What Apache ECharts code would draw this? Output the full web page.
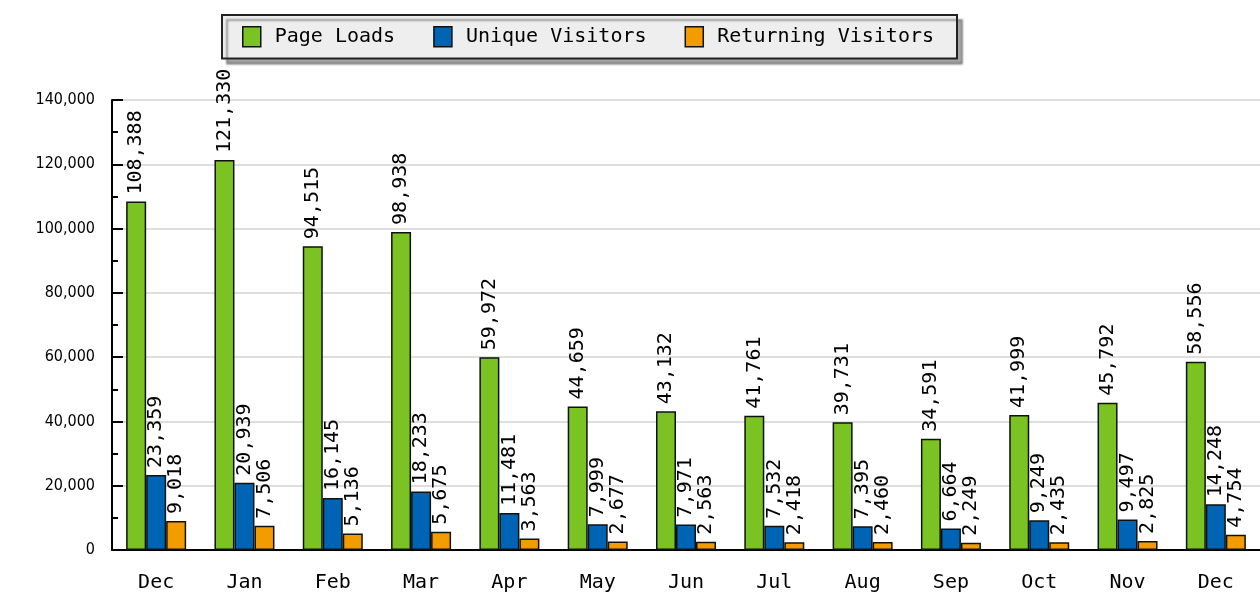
<!DOCTYPE html>
<html>
<head>
<meta charset="utf-8">
<script src="https://cdn.jsdelivr.net/npm/echarts@6/dist/echarts.min.js"></script>
<style>
  html, body { margin: 0; padding: 0; background: #fff; }
  #main { width: 1260px; height: 593px; }
</style>
</head>
<body>
<div id="main"></div>
<script>
// 月份
var months = ['Dec', 'Jan', 'Feb', 'Mar', 'Apr', 'May', 'Jun', 'Jul', 'Aug', 'Sep', 'Oct', 'Nov', 'Dec']
// 各系列数据
var pageLoads = [108388, 121330, 94515, 98938, 59972, 44659, 43132, 41761, 39731, 34591, 41999, 45792, 58556]
var uniqueVisitors = [23359, 20939, 16145, 18233, 11481, 7999, 7971, 7532, 7395, 6664, 9249, 9497, 14248]
var returningVisitors = [9018, 7506, 5136, 5675, 3563, 2677, 2563, 2418, 2460, 2249, 2435, 2825, 4754]
// y轴刻度
var yTicks = [0, 20000, 40000, 60000, 80000, 100000, 120000, 140000]

var mono = 'DejaVu Sans Mono'

function fmt(v) {
  return String(v).replace(/\B(?=(\d{3})+(?!\d))/g, ',')
}

function makeSeries(name, data, color) {
  return {
    name: name,
    type: 'bar',
    data: data,
    barWidth: 20,
    barGap: '0%',
    itemStyle: {
      color: color,
      borderColor: '#111',
      borderWidth: 1.5
    },
    label: {
      show: true,
      position: 'top',
      rotate: 90,
      align: 'left',
      verticalAlign: 'middle',
      distance: 7,
      color: '#000',
      fontFamily: mono,
      fontSize: 20,
      formatter: function (p) { return fmt(p.value) }
    }
  }
}

var chart = echarts.init(document.getElementById('main'))
chart.setOption({
  animation: false,
  legend: {
    left: 222,
    top: 15,
    padding: [11, 23, 11, 20],
    itemWidth: 18,
    itemHeight: 20,
    itemGap: 38,
    backgroundColor: '#eeeeee',
    borderColor: '#222',
    borderWidth: 2,
    shadowColor: 'rgba(0,0,0,0.35)',
    shadowBlur: 2,
    shadowOffsetX: 5,
    shadowOffsetY: 5,
    icon: 'rect',
    itemStyle: { borderColor: '#111', borderWidth: 1.5 },
    textStyle: {
      fontFamily: mono,
      fontSize: 20,
      color: '#000',
      padding: [0, 0, 0, 9]
    },
    data: ['Page Loads', 'Unique Visitors', 'Returning Visitors']
  },
  grid: {
    left: 112,
    top: 100,
    bottom: 43,
    right: -14,
    containLabel: false
  },
  xAxis: {
    type: 'category',
    data: months,
    axisLine: { lineStyle: { color: '#000', width: 2 } },
    axisTick: { inside: true, length: 10, lineStyle: { color: '#000', width: 2 } },
    axisLabel: {
      margin: 23,
      color: '#000',
      fontFamily: mono,
      fontSize: 20
    }
  },
  yAxis: {
    type: 'value',
    min: yTicks[0],
    max: yTicks[yTicks.length - 1],
    interval: yTicks[1] - yTicks[0],
    axisLine: { show: true, lineStyle: { color: '#000', width: 2 } },
    axisTick: { show: true, inside: true, length: 11, lineStyle: { color: '#000', width: 2 } },
    minorTick: { show: true, splitNumber: 2, length: 6, lineStyle: { color: '#000', width: 2 } },
    splitLine: { lineStyle: { color: '#dedede', width: 2 } },
    axisLabel: {
      margin: 17,
      color: '#000',
      fontFamily: "'DejaVu Sans Condensed', 'DejaVu Sans Mono'",
      fontSize: 16,
      formatter: function (v) { return fmt(v) }
    }
  },
  series: [
    makeSeries('Page Loads', pageLoads, '#7ac322'),
    makeSeries('Unique Visitors', uniqueVisitors, '#0064b4'),
    makeSeries('Returning Visitors', returningVisitors, '#f29c00')
  ]
})
</script>
</body>
</html>
